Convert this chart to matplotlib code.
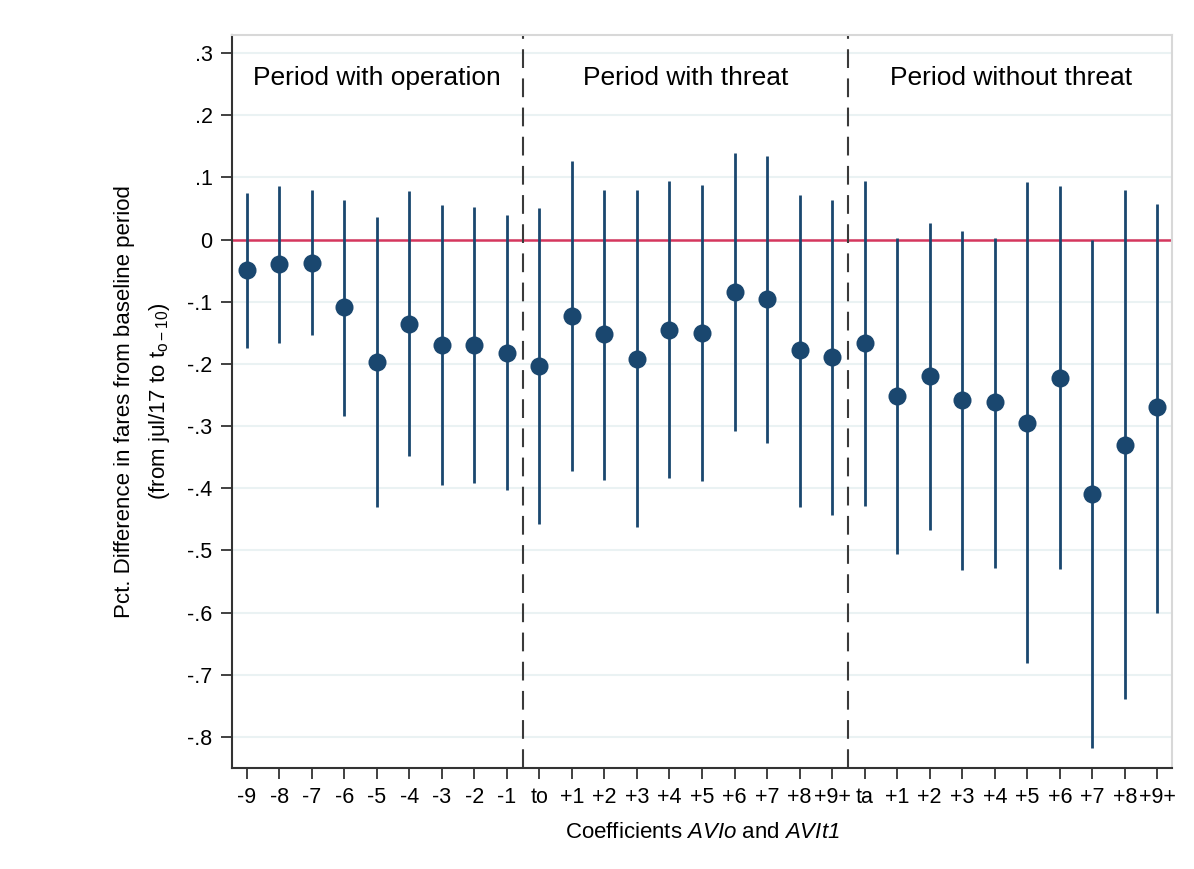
import matplotlib
matplotlib.use('Agg')
import matplotlib.pyplot as plt

plt.rcParams['font.family'] = ['Liberation Sans', 'DejaVu Sans']
plt.rcParams['mathtext.fontset'] = 'custom'
plt.rcParams['mathtext.rm'] = 'Liberation Sans'
plt.rcParams['mathtext.it'] = 'Liberation Sans:italic'
plt.rcParams['mathtext.sf'] = 'Liberation Sans:italic'  # italic digits

# coefficient labels on the x axis (three periods)
tick_labels = ['-9', '-8', '-7', '-6', '-5', '-4', '-3', '-2', '-1',
               'to', '+1', '+2', '+3', '+4', '+5', '+6', '+7', '+8', '+9+',
               'ta', '+1', '+2', '+3', '+4', '+5', '+6', '+7', '+8', '+9+']

# point estimates
coef = [-0.049, -0.040, -0.037, -0.109, -0.197, -0.136, -0.169, -0.169, -0.182,
        -0.203, -0.123, -0.152, -0.192, -0.145, -0.150, -0.084, -0.096, -0.178, -0.189,
        -0.167, -0.251, -0.220, -0.258, -0.262, -0.295, -0.222, -0.410, -0.330, -0.270]

# confidence interval bounds
ci_low = [-0.174, -0.166, -0.154, -0.284, -0.430, -0.348, -0.395, -0.391, -0.403,
          -0.457, -0.372, -0.386, -0.463, -0.384, -0.389, -0.308, -0.328, -0.430, -0.443,
          -0.429, -0.505, -0.467, -0.532, -0.528, -0.681, -0.530, -0.818, -0.739, -0.600]
ci_high = [0.075, 0.086, 0.080, 0.064, 0.036, 0.078, 0.056, 0.052, 0.039,
           0.050, 0.127, 0.080, 0.079, 0.094, 0.088, 0.140, 0.135, 0.072, 0.064,
           0.094, 0.003, 0.027, 0.014, 0.003, 0.092, 0.086, -0.001, 0.080, 0.058]

periods = ['Period with operation', 'Period with threat', 'Period without threat']
period_sizes = [9, 10, 10]

y_ticks = [0.3, 0.2, 0.1, 0, -0.1, -0.2, -0.3, -0.4, -0.5, -0.6, -0.7, -0.8]
y_tick_labels = ['.3', '.2', '.1', '0', '-.1', '-.2', '-.3', '-.4', '-.5', '-.6', '-.7', '-.8']

navy = '#1a476f'

fig = plt.figure(figsize=(11.94, 8.69), dpi=100)
ax = fig.add_axes([0.1943, 0.1162, 0.7873, 0.8435])

x = list(range(len(coef)))

for yt in y_ticks:
    ax.axhline(yt, color='#eaf2f3', lw=1.5, zorder=0)
ax.axhline(0, color='#d5375e', lw=1.8, zorder=1)

ax.vlines(x, ci_low, ci_high, color=navy, lw=2.0, zorder=2)
ax.plot(x, coef, 'o', color=navy, markersize=13, zorder=3, markeredgewidth=0)

# period separators and labels
start = 0
for i, (name, n) in enumerate(zip(periods, period_sizes)):
    if i > 0:
        ax.axvline(start - 0.5, color='#3a3a3a', lw=1.5, ls=(0, (9, 5)), zorder=1)
    ax.text(start + (n - 1) / 2, 0.26, name, ha='center', va='center', fontsize=19)
    start += n

ax.set_xlim(-0.45, len(coef) - 0.55)
ax.set_ylim(-0.85, 0.329)
ax.set_xticks(x)
ax.set_xticklabels(tick_labels, fontsize=15.5)
ax.set_yticks(y_ticks)
ax.set_yticklabels(y_tick_labels, fontsize=15.5)
ax.tick_params(direction='out', length=8, width=1.3, color='#333333', pad=6)

for side in ['top', 'right']:
    ax.spines[side].set_color('#d8d8d8')
    ax.spines[side].set_linewidth(1.5)
for side in ['left', 'bottom']:
    ax.spines[side].set_color('#333333')
    ax.spines[side].set_linewidth(1.5)

ax.set_xlabel(r'Coefficients $\mathit{AVIo}$ and $\mathit{AVIt}\mathsf{1}$', fontsize=16, labelpad=10)

fig.text(0.104, 0.538, 'Pct. Difference in fares from baseline period',
         rotation=90, ha='center', va='center', fontsize=16)
fig.text(0.134, 0.538, r'(from jul/17 to t$_{\mathrm{o-10}}$)',
         rotation=90, ha='center', va='center', fontsize=16)

fig.savefig('out.png', dpi=100)
